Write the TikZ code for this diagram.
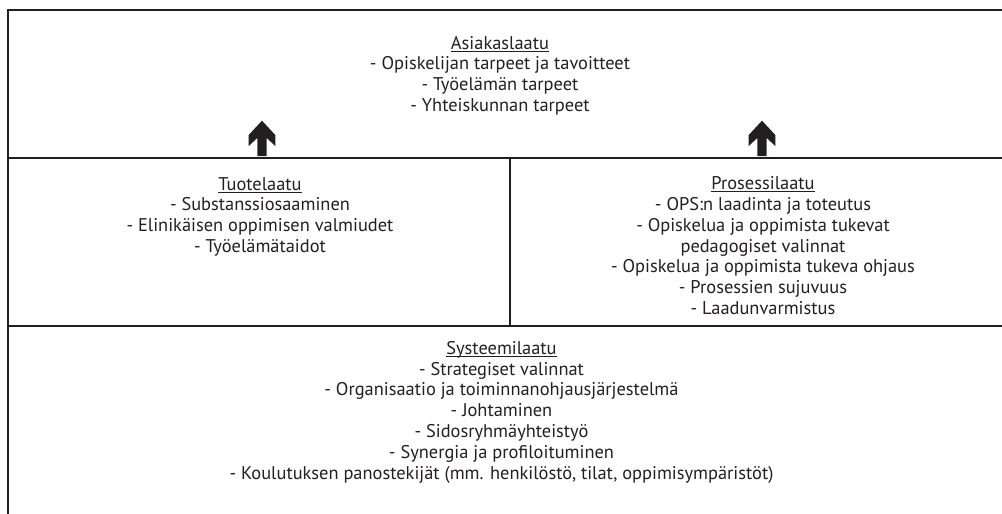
\documentclass[tikz,border=0pt]{standalone}
\usepackage{fontspec}
\setmainfont{PT Sans}
\definecolor{ink}{HTML}{231F20}
\newcommand\ulin[1]{\setbox0\hbox{#1}\rlap{\rule[-2.4pt]{\wd0}{0.9pt}}\box0}
\begin{document}
\begin{tikzpicture}[x=1pt,y=-1pt,
  frame/.style={draw=ink,line width=1.7pt},
  block/.style={align=center,inner sep=0pt,anchor=base,text=ink,
    font=\fontsize{18.4}{20.8}\selectfont},
  uparrow/.style={fill=ink,draw=none}]
\useasboundingbox (0,0) rectangle (1002,514);
% frame lines
\coordinate (tl) at (8,10);
\coordinate (tr) at (1003,10);
\coordinate (ml) at (8,158);
\coordinate (mr) at (1003,158);
\coordinate (mm) at (510,158);
\coordinate (bl) at (8,326);
\coordinate (br) at (1003,326);
\coordinate (bm) at (510,326);
\coordinate (el) at (8,515);
\draw[frame] (tr) -- (tl) -- (el);
\draw[frame] (ml) -- (mr);
\draw[frame] (bl) -- (br);
\draw[frame] (mm) -- (bm);
% arrows
\foreach \cx/\nm in {262/a1,762/a2}{
  \fill[uparrow] (\cx,120.7) -- ++(13.3,14.3) -- ++(0,11) -- ++(-8.6,-8) -- ++(0,18)
    -- ++(-9.4,0) -- ++(0,-18) -- ++(-8.6,8) -- ++(0,-11) -- cycle;
}
% texts (anchor base = baseline of last line)
\node[block] (asiakas) at (500,111.5) {\ulin{Asiakaslaatu}\\- Opiskelijan tarpeet ja tavoitteet\\- Työelämän tarpeet\\- Yhteiskunnan tarpeet};
\node[block] (tuote) at (260,252.5) {\ulin{Tuotelaatu}\\- Substanssiosaaminen\\- Elinikäisen oppimisen valmiudet\\- Työelämätaidot};
\node[block] (prosessi) at (763,314.5) {\ulin{Prosessilaatu}\\- OPS:n laadinta ja toteutus\\- Opiskelua ja oppimista tukevat\\pedagogiset valinnat\\- Opiskelua ja oppimista tukeva ohjaus\\- Prosessien sujuvuus\\- Laadunvarmistus};
\node[block] (systeemi) at (501.5,479) {\ulin{Systeemilaatu}\\- Strategiset valinnat\\- Organisaatio ja toiminnanohjausjärjestelmä\\- Johtaminen\\- Sidosryhmäyhteistyö\\- Synergia ja profiloituminen\\- Koulutuksen panostekijät (mm. henkilöstö, tilat, oppimisympäristöt)};
\end{tikzpicture}
\end{document}
